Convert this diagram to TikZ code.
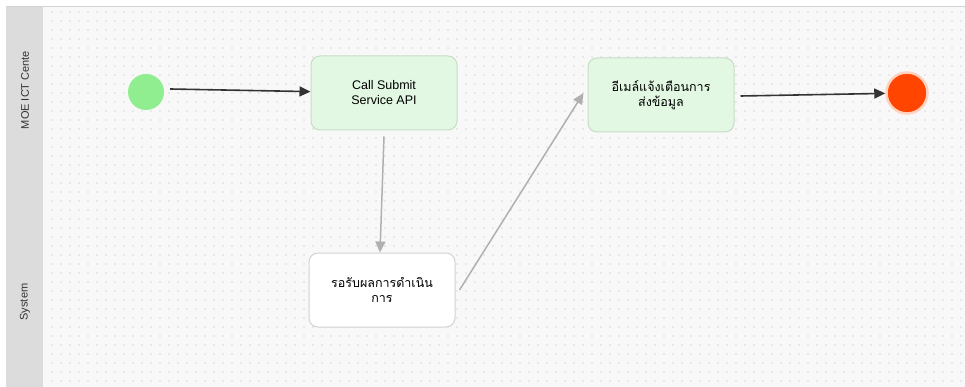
\documentclass[tikz,border=0pt]{standalone}
\usepackage{fontspec}
\setmainfont{Liberation Sans}
\newfontfamily\thai[Script=Thai]{Loma}
\usetikzlibrary{arrows.meta,calc}
\definecolor{bgc}{HTML}{F8F8F8}
\definecolor{lanec}{HTML}{DCDCDC}
\definecolor{dotc}{HTML}{B4B4B4}
\definecolor{taskfill}{HTML}{E2F8E2}
\definecolor{taskdraw}{HTML}{C8DCC8}
\definecolor{sysdraw}{HTML}{D2D2D2}
\definecolor{startc}{HTML}{90EE90}
\definecolor{endc}{HTML}{FF4500}
\definecolor{darkline}{HTML}{333333}
\definecolor{grayline}{HTML}{B0B0B0}
\tikzset{
  task/.style={draw=taskdraw, line width=1pt, fill=taskfill, rounded corners=9pt,
    minimum width=146pt, minimum height=74pt, align=center, font=\fontsize{12.5}{15}\selectfont, inner sep=2pt},
  systask/.style={task, draw=sysdraw, fill=white},
  lanelabel/.style={rotate=90, font=\fontsize{11}{13}\selectfont, text=black!80},
  darkarrow/.style={draw=darkline, line width=1.6pt, -{Triangle[length=11pt,width=10pt]}},
  grayarrow/.style={draw=grayline, line width=1.5pt, -{Triangle[length=11pt,width=10pt]}},
}
\begin{document}
\begin{tikzpicture}[x=1pt,y=-1pt]
\useasboundingbox (0,0) rectangle (965,387);
\fill[white] (0,0) rectangle (965,387);
\fill[bgc] (43,6) rectangle (965,387);
\foreach \yy in {12,21,...,387}{
  \foreach \xx in {52,61,...,965}{
    \fill[dotc] (\xx,\yy) circle (0.55);
  }
}
\fill[lanec] (6,6) rectangle (43,387);
\draw[sysdraw, line width=0.6pt] (6,6) -- (965,6);
\node[lanelabel] (lane1) at (25,90) {MOE ICT Cente};
\node[lanelabel] (lane2) at (25,302) {System};

\node[circle, fill=startc, minimum size=36pt, inner sep=0pt] (start) at (146,92) {};
\node[task] (call) at (384,93) {Call Submit\\Service API};
\node[task] (mail) at (661,95) {\thai อีเมล์แจ้งเตือนการ\\\thai ส่งข้อมูล};
\node[systask] (sys) at (382,290) {\thai รอรับผลการดำเนิน\\\thai การ};
\node[circle, fill=endc, draw=endc!25, line width=2.5pt, minimum size=41pt, inner sep=0pt] (end) at (907,93) {};

\coordinate (c0) at ($(start.east)+(6,-3)$);
\coordinate (c1) at ($(call.south)+(0,6)$);
\coordinate (c2) at ($(sys.north)+(-2,0)$);
\coordinate (c3) at ($(sys.east)+(4,0)$);
\coordinate (c4) at ($(mail.west)+(-4,-2)$);
\coordinate (c5) at ($(mail.east)+(6,1)$);
\draw[darkarrow] (c0) -- (call);
\draw[grayarrow] (c1) -- (c2);
\draw[grayarrow] (c3) -- (c4);
\draw[darkarrow] (c5) -- (end);
\end{tikzpicture}
\end{document}
